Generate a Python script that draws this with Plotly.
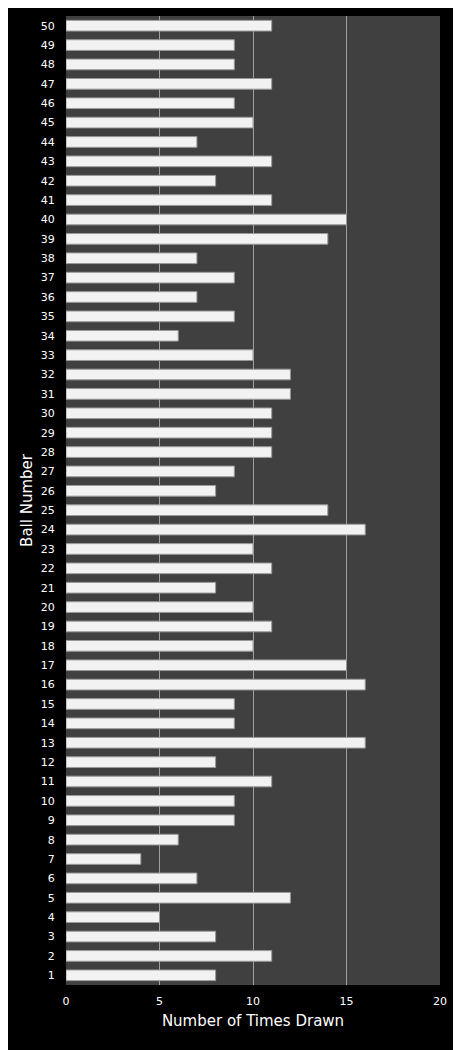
import plotly.graph_objects as go

balls = list(range(1, 51))
times_drawn = [8, 11, 8, 5, 12, 7, 4, 6, 9, 9,
               11, 8, 16, 9, 9, 16, 15, 10, 11, 10,
               8, 11, 10, 16, 14, 8, 9, 11, 11, 11,
               12, 12, 10, 6, 9, 7, 9, 7, 14, 15,
               11, 8, 11, 7, 10, 9, 11, 9, 9, 11]

fig = go.Figure(go.Bar(
    x=times_drawn, y=balls, orientation="h",
    marker=dict(color="#f2f2f2", line=dict(color="#9a9a9a", width=1)),
))

# page adds an 8px body margin, so margins are shifted to compensate
fig.update_layout(
    width=461, height=1050,
    margin=dict(l=58, r=29, t=8, b=73),
    paper_bgcolor="black", plot_bgcolor="#404040",
    font=dict(family="DejaVu Sans", color="white", size=11),
    bargap=0.45, showlegend=False,
)
fig.update_xaxes(range=[0, 20], dtick=5, showgrid=True, gridcolor="#a0a0a0",
                 gridwidth=1, zeroline=False, ticks="outside", ticklen=6,
                 tickcolor="rgba(0,0,0,0)",
                 title=dict(text="Number of Times Drawn", font=dict(size=15), standoff=8))
fig.update_yaxes(range=[0.5, 50.5], dtick=1, showgrid=False, zeroline=False,
                 ticks="outside", ticklen=8, tickcolor="rgba(0,0,0,0)",
                 title=dict(text="Ball Number", font=dict(size=15), standoff=4))

fig.write_html("out.html")
